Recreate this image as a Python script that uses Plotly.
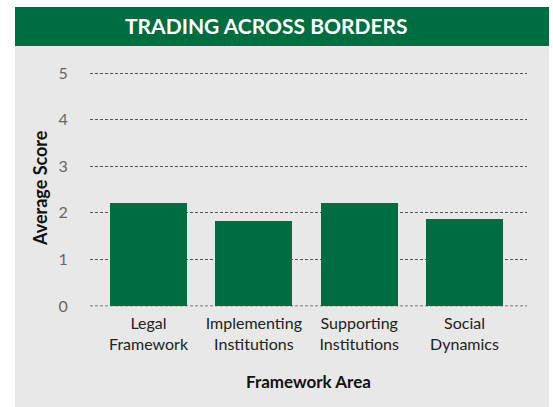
import plotly.graph_objects as go

categories = ["Legal<br>Framework", "Implementing<br>Institutions", "Supporting<br>Institutions", "Social<br>Dynamics"]
scores = [2.21, 1.82, 2.21, 1.87]
y_ticks = [0, 1, 2, 3, 4, 5]
y_tick_labels = ["0", "1", "2", "3", "4", "5"]

W, H = 553, 407
GREEN = "#006c42"
BG = "#e8e8e8"
FONT = "Lato, 'Open Sans', sans-serif"

fig = go.Figure()
fig.add_trace(go.Bar(
    x=list(range(len(categories))), y=scores,
    marker=dict(color=GREEN, line=dict(width=0)),
    width=0.731, hoverinfo="skip",
))

def px_x(p):
    return p / W

def px_y(p):
    return 1 - p / H

shapes = [
    dict(type="rect", xref="paper", yref="paper", x0=px_x(15), x1=px_x(549), y0=px_y(407), y1=px_y(46),
         fillcolor=BG, line=dict(width=0), layer="below"),
    dict(type="rect", xref="paper", yref="paper", x0=px_x(15), x1=px_x(549), y0=px_y(46), y1=px_y(7),
         fillcolor=GREEN, line=dict(width=0), layer="below"),
    dict(type="line", xref="x domain", yref="y", x0=0, x1=1, y0=y_ticks[0], y1=y_ticks[0],
         line=dict(color="#555", width=1, dash="3px,2px"), layer="below"),
]

annotations = [
    dict(text="<b>TRADING ACROSS BORDERS</b>", xref="paper", yref="paper", x=px_x(266), y=px_y(26),
         showarrow=False, font=dict(family=FONT, size=21, color="white"), xanchor="center", yanchor="middle"),
    dict(text="<b>Average Score</b>", xref="paper", yref="paper", x=px_x(40), y=px_y(188),
         showarrow=False, textangle=-90, font=dict(family=FONT, size=18, color="#111"),
         xanchor="center", yanchor="middle"),
    dict(text="<b>Framework Area</b>", xref="paper", yref="paper", x=px_x(308), y=px_y(381),
         showarrow=False, font=dict(family=FONT, size=17, color="#111"), xanchor="center", yanchor="middle"),
]

fig.update_layout(
    width=W, height=H,
    margin=dict(l=0, r=0, t=0, b=0),
    paper_bgcolor="white", plot_bgcolor="rgba(0,0,0,0)",
    showlegend=False,
    shapes=shapes, annotations=annotations,
    xaxis=dict(
        domain=[px_x(90), px_x(527)], range=[-0.5555, 3.593],
        tickmode="array", tickvals=list(range(len(categories))), ticktext=categories,
        showgrid=False, zeroline=False, showline=False, automargin=False,
        tickfont=dict(family=FONT, size=16, color="#222"),
        ticks="outside", ticklen=2, tickcolor="rgba(0,0,0,0)",
    ),
    yaxis=dict(
        domain=[px_y(306.5), px_y(60)], range=[-0.01, 5.279],
        tickmode="array", tickvals=y_ticks, ticktext=y_tick_labels,
        showgrid=True, gridcolor="#555", griddash="3px,2px", gridwidth=1,
        zeroline=False, showline=False, automargin=False,
        tickfont=dict(family=FONT, size=16, color="#666"),
        ticks="outside", ticklen=18, tickcolor="rgba(0,0,0,0)",
    ),
    bargap=0,
)

fig.write_html("out.html", config={"displayModeBar": False, "staticPlot": True},
               post_script="document.body.style.margin='0';document.body.style.overflow='hidden';")
